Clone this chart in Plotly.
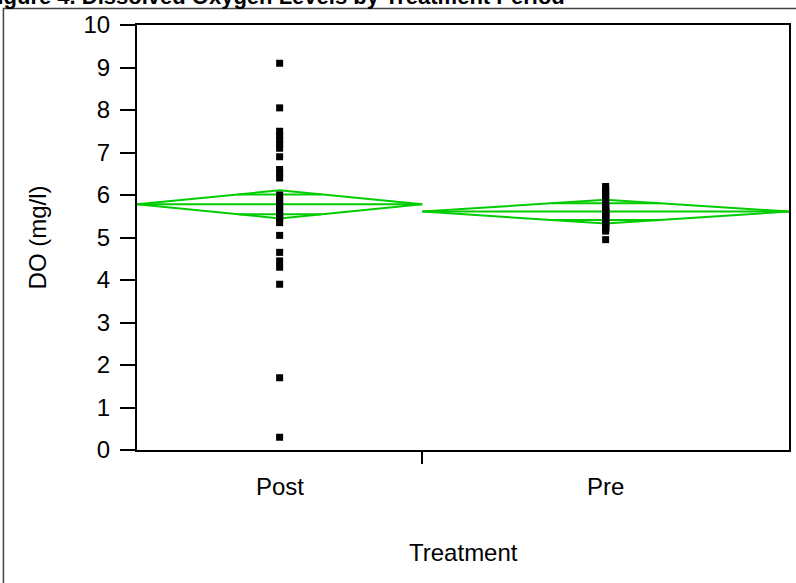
import math
import plotly.graph_objects as go

# ---- data ----
groups = ["Post", "Pre"]
post_values = [9.1, 8.05, 7.5, 7.4, 7.3, 7.2, 7.1, 6.9, 6.6, 6.5, 6.4, 6.0,
               5.9, 5.85, 5.75, 5.7, 5.65, 5.55, 5.5, 5.45, 5.35, 5.05,
               4.65, 4.45, 4.3, 3.9, 1.7, 0.3]
pre_values = [6.2, 6.15, 6.1, 6.05, 6.0, 5.95, 5.9, 5.85, 5.8, 5.75,
              5.7, 5.7, 5.65, 5.65, 5.6, 5.6, 5.55, 5.55, 5.5, 5.5,
              5.45, 5.45, 5.4, 5.4, 5.35, 5.35, 5.3, 5.3, 5.25, 5.25,
              5.2, 5.2, 5.15, 5.6, 5.5, 4.95]
diamond_means = [5.78, 5.61]
diamond_ci_half = [0.33, 0.28]
y_ticks = [0, 1, 2, 3, 4, 5, 6, 7, 8, 9, 10]

values = [post_values, pre_values]
counts = [len(v) for v in values]
total = sum(counts)

GREEN = "#00CC00"
FONT = "Liberation Sans, Arial, sans-serif"
FS = 24

fig = go.Figure()

start = 0
centers = []
for g, vals, n, m, h in zip(groups, values, counts, diamond_means, diamond_ci_half):
    x0, x1 = start, start + n
    xc = (x0 + x1) / 2
    centers.append(xc)
    hw = (x1 - x0) / 2
    # diamond outline
    fig.add_trace(go.Scatter(
        x=[x0, xc, x1, xc, x0], y=[m, m + h, m, m - h, m],
        mode="lines", line=dict(color=GREEN, width=2), hoverinfo="skip",
        showlegend=False))
    # mean line
    fig.add_trace(go.Scatter(
        x=[x0, x1], y=[m, m], mode="lines",
        line=dict(color=GREEN, width=2), hoverinfo="skip", showlegend=False))
    # overlap marks
    d = h / math.sqrt(2)
    f = 1 - 1 / math.sqrt(2)
    for s in (1, -1):
        fig.add_trace(go.Scatter(
            x=[xc - f * hw, xc + f * hw], y=[m + s * d, m + s * d], mode="lines",
            line=dict(color=GREEN, width=2), hoverinfo="skip", showlegend=False))
    # points
    fig.add_trace(go.Scatter(
        x=[xc] * len(vals), y=vals, mode="markers",
        marker=dict(symbol="square", size=7, color="black", line=dict(width=0)),
        showlegend=False, name=g))
    start = x1

boundaries = [counts[0]]

fig.update_layout(
    width=796, height=583,
    margin=dict(l=137, r=5, t=25, b=133),
    paper_bgcolor="white", plot_bgcolor="white",
    font=dict(family=FONT, size=FS, color="black"),
    xaxis=dict(range=[0, total], tickvals=boundaries, ticktext=[""],
               ticks="outside", ticklen=12, tickwidth=2, tickcolor="black",
               showline=True, linecolor="black", linewidth=2, mirror=True,
               showgrid=False, zeroline=False, fixedrange=True),
    yaxis=dict(range=[0, 10], tickvals=y_ticks,
               ticks="outside", ticklen=15, tickwidth=2, tickcolor="black",
               tickfont=dict(size=FS), ticklabelstandoff=5,
               showline=True, linecolor="black",
               linewidth=2, mirror=True, showgrid=False, zeroline=False,
               fixedrange=True),
)

for g, xc in zip(groups, centers):
    fig.add_annotation(x=xc, xref="x", y=-0.087, yref="paper", text=g,
                       showarrow=False, font=dict(size=FS), yanchor="middle")

fig.add_annotation(x=0.5, xref="paper", y=-0.24, yref="paper", text="Treatment",
                   showarrow=False, font=dict(size=FS), yanchor="middle")
fig.add_annotation(x=-0.152, xref="paper", y=0.5, yref="paper", text="DO (mg/l)",
                   textangle=-90, showarrow=False, font=dict(size=FS),
                   xanchor="center", yanchor="middle")
fig.add_annotation(x=-0.237, xref="paper", y=1.068, yref="paper",
                   text="<b>Figure 4. Dissolved Oxygen Levels by Treatment Period</b>",
                   showarrow=False, font=dict(size=22), xanchor="left",
                   yanchor="middle")

fig.add_shape(type="rect", xref="paper", yref="paper",
              x0=-0.2049, x1=1.03, y0=-0.4, y1=1.0388,
              line=dict(color="#444444", width=1.5), layer="below")

fig.write_html("out.html")
